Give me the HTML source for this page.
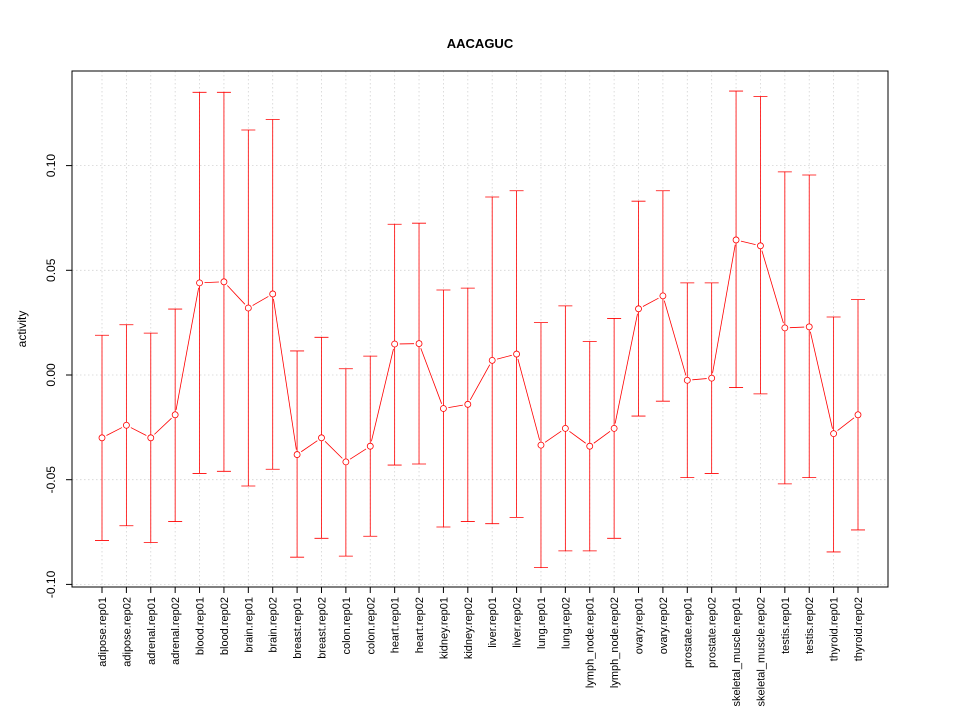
<!DOCTYPE html>
<html><head><meta charset="utf-8"><style>
html,body{margin:0;padding:0;background:#fff;}
svg{display:block;font-family:"Liberation Sans",sans-serif;}
</style></head><body>
<svg id="chart" width="960" height="720" xmlns="http://www.w3.org/2000/svg">
<text x="480" y="48" text-anchor="middle" font-weight="bold" font-size="13">AACAGUC</text>
<text transform="translate(26,329) rotate(-90)" text-anchor="middle" font-size="12">activity</text>
<g id="grid"></g>
<g id="yaxis"></g>
<g id="xaxis"></g>
<g id="series"></g>
<rect x="72" y="71" width="816" height="516" fill="none" stroke="#000" stroke-width="1"/>
</svg>
<script>
const categories=["adipose.rep01","adipose.rep02","adrenal.rep01","adrenal.rep02","blood.rep01","blood.rep02","brain.rep01","brain.rep02","breast.rep01","breast.rep02","colon.rep01","colon.rep02","heart.rep01","heart.rep02","kidney.rep01","kidney.rep02","liver.rep01","liver.rep02","lung.rep01","lung.rep02","lymph_node.rep01","lymph_node.rep02","ovary.rep01","ovary.rep02","prostate.rep01","prostate.rep02","skeletal_muscle.rep01","skeletal_muscle.rep02","testis.rep01","testis.rep02","thyroid.rep01","thyroid.rep02"];
const values=[-0.030,-0.024,-0.030,-0.019,0.044,0.0445,0.032,0.0387,-0.038,-0.030,-0.0415,-0.034,0.0148,0.015,-0.016,-0.014,0.007,0.010,-0.0335,-0.0255,-0.034,-0.0255,0.0316,0.0378,-0.0025,-0.0015,0.0645,0.0617,0.0225,0.023,-0.028,-0.019];
const upper=[0.019,0.024,0.020,0.0315,0.135,0.135,0.117,0.122,0.0115,0.018,0.003,0.009,0.072,0.0725,0.0406,0.0415,0.085,0.088,0.025,0.033,0.016,0.027,0.083,0.088,0.044,0.044,0.1356,0.133,0.097,0.0955,0.0277,0.036];
const lower=[-0.079,-0.072,-0.080,-0.070,-0.047,-0.046,-0.053,-0.045,-0.087,-0.078,-0.0865,-0.077,-0.043,-0.0425,-0.0726,-0.070,-0.071,-0.068,-0.092,-0.084,-0.084,-0.078,-0.0196,-0.0125,-0.049,-0.047,-0.006,-0.009,-0.052,-0.049,-0.0845,-0.074];
const yTicks=[-0.10,-0.05,0.00,0.05,0.10];
const yTickLabels=["-0.10","-0.05","0.00","0.05","0.10"];

const NS="http://www.w3.org/2000/svg";
function yS(v){return 375-v*2094;}
function xS(i){return 102+i*(756/(categories.length-1));}
function mk(tag,attrs,parent){const e=document.createElementNS(NS,tag);for(const k in attrs)e.setAttribute(k,attrs[k]);parent.appendChild(e);return e;}
const grid=document.getElementById('grid'),ya=document.getElementById('yaxis'),xa=document.getElementById('xaxis'),ser=document.getElementById('series');

yTicks.forEach((t,i)=>{
  const y=yS(t);
  const g=mk('line',{x1:72,x2:888,y1:y,y2:y,stroke:'#d3d3d3','stroke-width':0.8,'stroke-dasharray':'1.5,2.5'},grid);
  
  
  const tk=mk('line',{x1:66,x2:72,y1:y,y2:y,stroke:'#000'},ya);
  
  
  const tx=mk('text',{transform:`translate(55,${y}) rotate(-90)`,'text-anchor':'middle','font-size':'12'},ya);
  tx.textContent=yTickLabels[i];
  
  
});
mk('line',{x1:72,x2:72,y1:yS(-0.10),y2:yS(0.10),stroke:'#000'},ya);

categories.forEach((c,i)=>{
  const x=xS(i);
  const g=mk('line',{x1:x,x2:x,y1:71,y2:587,stroke:'#d3d3d3','stroke-width':0.8,'stroke-dasharray':'1.5,2.5'},grid);
  
  
  const tk=mk('line',{x1:x,x2:x,y1:587,y2:593,stroke:'#000'},xa);
  
  
  const tx=mk('text',{transform:`translate(${x+4},597) rotate(-90)`,'text-anchor':'end','font-size':'11'},xa);
  tx.textContent=c;
  
  
});
mk('line',{x1:xS(0),x2:xS(categories.length-1),y1:587,y2:587,stroke:'#000'},xa);

categories.forEach((c,i)=>{
  const x=xS(i);
  const eb=mk('path',{d:`M${x},${yS(lower[i])}V${yS(upper[i])}M${x-7},${yS(upper[i])}H${x+7}M${x-7},${yS(lower[i])}H${x+7}`,stroke:'#f00',fill:'none','stroke-width':0.8},ser);
  
  
});
for(let i=0;i<values.length-1;i++){
  const x1=xS(i),y1=yS(values[i]),x2=xS(i+1),y2=yS(values[i+1]);
  const dx=x2-x1,dy=y2-y1,L=Math.hypot(dx,dy),g=5;
  if(L<=2*g)continue;
  const ux=dx/L,uy=dy/L;
  const seg=mk('line',{x1:x1+ux*g,y1:y1+uy*g,x2:x2-ux*g,y2:y2-uy*g,stroke:'#f00','stroke-width':0.8},ser);
  
  
}
values.forEach((v,i)=>{
  const p=mk('circle',{cx:xS(i),cy:yS(v),r:3,fill:'#fff',stroke:'#f00','stroke-width':0.8},ser);
  
  
});
</script>
</body></html>
